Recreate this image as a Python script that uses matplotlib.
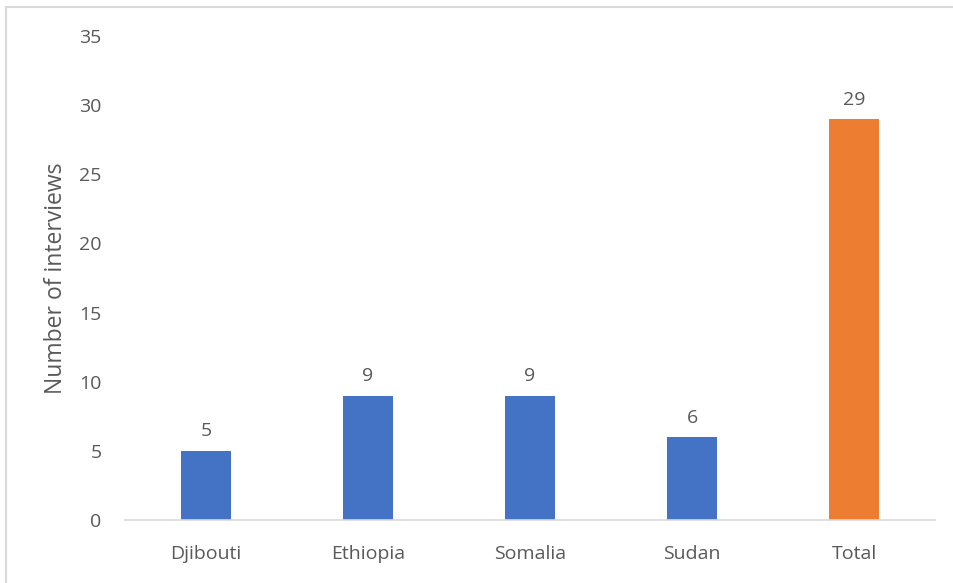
import matplotlib
matplotlib.use("Agg")
import matplotlib.pyplot as plt
from matplotlib.patches import Rectangle

categories = ["Djibouti", "Ethiopia", "Somalia", "Sudan", "Total"]
values = [5, 9, 9, 6, 29]
colors = ["#4472C4", "#4472C4", "#4472C4", "#4472C4", "#ED7D31"]
yticks = [0, 5, 10, 15, 20, 25, 30, 35]

plt.rcParams['font.family'] = ['Open Sans', 'DejaVu Sans']
txt = "#595959"

fig = plt.figure(figsize=(9.54, 5.83), dpi=100)
ax = fig.add_axes([125/954, 1-520/583, (935-125)/954, (520-36)/583])

x = list(range(len(categories)))
bars = ax.bar(x, values, width=0.31, color=colors, zorder=2)
for xi, v in zip(x, values):
    ax.annotate(str(v), (xi, v), xytext=(0, 7.5), textcoords="offset points",
                ha="center", va="bottom", fontsize=14, color=txt)

ax.set_xlim(-0.5, len(categories) - 0.5)
ax.set_ylim(0, 35)
ax.set_yticks(yticks)
ax.set_xticks(x)
ax.set_xticklabels(categories)
ax.tick_params(axis="both", length=0, labelsize=14, labelcolor=txt)
ax.tick_params(axis="y", pad=17)
ax.tick_params(axis="x", pad=18)
for s in ["top", "right", "left"]:
    ax.spines[s].set_visible(False)
ax.spines["bottom"].set_color("#D9D9D9")
ax.spines["bottom"].set_linewidth(1.2)
ax.set_ylabel("Number of interviews", fontsize=16.5, color=txt, labelpad=8)

fig.patches.append(Rectangle((6.5/954, -0.5), 2.0, 1.5 - 6.5/583,
                             transform=fig.transFigure, fill=False,
                             edgecolor="#D9D9D9", linewidth=1.5))

fig.savefig("out.png", dpi=100)
